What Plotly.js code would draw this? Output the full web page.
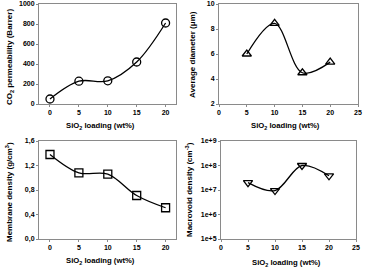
<!DOCTYPE html>
<html><head><meta charset="utf-8">
<script src="https://cdn.plot.ly/plotly-3.0.1.min.js"></script>
<style>html,body{margin:0;padding:0;background:#fff}#c{width:365px;height:272px}</style>
</head><body><div id="c"></div>
<script>
// Data
const loadingAll = [0, 5, 10, 15, 20];
const co2Perm = [50, 228, 232, 420, 810];
const loadingFill = [5, 10, 15, 20];
const avgDiameter = [6.0, 8.45, 4.5, 5.35];
const membraneDensity = [1.38, 1.08, 1.06, 0.71, 0.51];
const macrovoidDensity = [2.0e7, 9.5e6, 1.0e8, 3.8e7];

const permTicks = [0, 200, 400, 600, 800, 1000];
const diamTicks = [2, 4, 6, 8, 10];
const densTickVals = [0, 0.4, 0.8, 1.2, 1.6];
const densTickText = ['0,0', '0,4', '0,8', '1,2', '1,6'];
const macroTickVals = [1e5, 1e6, 1e7, 1e8, 1e9];
const macroTickText = ['1e+5', '1e+6', '1e+7', '1e+8', '1e+9'];
const xTicksA = [0, 5, 10, 15, 20];
const xTicksB = [0, 5, 10, 15, 20, 25];

const FONT = 'Liberation Sans, Arial, sans-serif';
const lineStyle = {color: '#000', width: 1.3, shape: 'spline', smoothing: 1};
function mk(sym) { return {symbol: sym, size: 8, color: '#000', line: {color: '#000', width: 1.3}}; }

const traces = [
  {x: loadingAll, y: co2Perm, xaxis: 'x', yaxis: 'y', mode: 'lines+markers', line: lineStyle, marker: mk('circle-open'), cliponaxis: false},
  {x: loadingFill, y: avgDiameter, xaxis: 'x2', yaxis: 'y2', mode: 'lines+markers', line: lineStyle, marker: mk('triangle-up-open'), cliponaxis: false},
  {x: loadingAll, y: membraneDensity, xaxis: 'x3', yaxis: 'y3', mode: 'lines+markers', line: lineStyle, marker: mk('square-open'), cliponaxis: false},
  {x: loadingFill, y: macrovoidDensity, xaxis: 'x4', yaxis: 'y4', mode: 'lines+markers', line: lineStyle, marker: mk('triangle-down-open'), cliponaxis: false}
];

function ax(domain, extra) {
  return Object.assign({
    domain: domain, showline: true, mirror: true, linecolor: '#8a8a8a', linewidth: 1,
    ticks: 'outside', ticklen: 2, tickcolor: '#8a8a8a', showgrid: false, zeroline: false,
    tickfont: {family: FONT, size: 7, color: '#000', weight: 'bold'}, fixedrange: true
  }, extra);
}
const px = v => v / 365, py = v => 1 - v / 272;
function note(text, x, y, rot, size) {
  return {text: text, x: px(x), y: py(y), xref: 'paper', yref: 'paper', showarrow: false,
    xanchor: 'center', yanchor: 'middle', textangle: rot || 0,
    font: {family: FONT, size: size, weight: 'bold', color: '#000'}};
}

const layout = {
  width: 365, height: 272, margin: {l: 0, r: 0, t: 0, b: 0},
  paper_bgcolor: '#fff', plot_bgcolor: '#fff', showlegend: false,
  xaxis: ax([px(39), px(176)], {anchor: 'y', range: [-1.9, 21.8], tickvals: xTicksA}),
  yaxis: ax([py(104), py(4)], {anchor: 'x', range: [0, 1000], tickvals: permTicks}),
  xaxis2: ax([px(219), px(358)], {anchor: 'y2', range: [0, 25], tickvals: xTicksB}),
  yaxis2: ax([py(104), py(4)], {anchor: 'x2', range: [2, 10], tickvals: diamTicks}),
  xaxis3: ax([px(39), px(176)], {anchor: 'y3', range: [-1.9, 21.8], tickvals: xTicksA}),
  yaxis3: ax([py(239), py(141)], {anchor: 'x3', range: [0, 1.6], tickvals: densTickVals, ticktext: densTickText}),
  xaxis4: ax([px(221), px(356)], {anchor: 'y4', range: [0, 25], tickvals: xTicksB}),
  yaxis4: ax([py(239), py(141)], {anchor: 'x4', type: 'log', range: [5, 9], tickvals: macroTickVals, ticktext: macroTickText}),
  annotations: [
    note('SiO<sub>2</sub> loading (wt%)', 101, 126, 0, 7.7),
    note('SiO<sub>2</sub> loading (wt%)', 285, 126, 0, 7.7),
    note('SiO<sub>2</sub> loading (wt%)', 100, 261, 0, 7.7),
    note('SiO<sub>2</sub> loading (wt%)', 286, 263, 0, 7.7),
    note('CO<sub>2</sub> permeability (Barrer)', 10, 57, -90, 8),
    note('Average diameter (μm)', 193, 55, -90, 8),
    note('Membrane density (g/cm<sup>3</sup>)', 9, 192, -90, 8),
    note('Macrovoid density (cm<sup>-3</sup>)', 189, 190, -90, 8)
  ]
};
Plotly.newPlot('c', traces, layout, {displayModeBar: false, staticPlot: true});
</script></body></html>
